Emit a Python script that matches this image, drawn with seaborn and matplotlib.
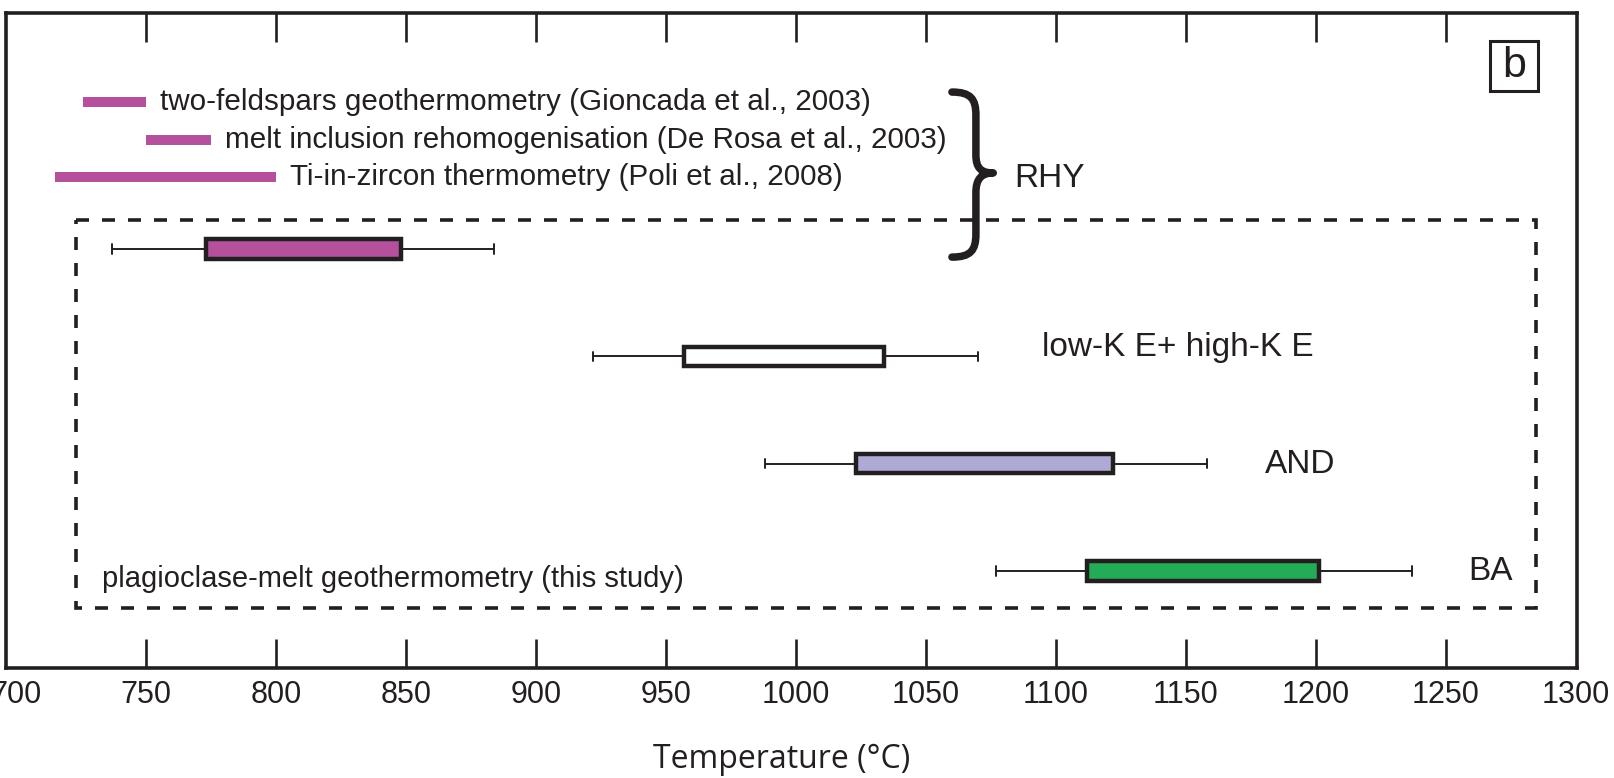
import matplotlib
matplotlib.use("Agg")
import matplotlib.pyplot as plt
from matplotlib.path import Path
from matplotlib.patches import PathPatch, Rectangle
from matplotlib import font_manager
import pandas as pd
import seaborn as sns

# ---------------- data ----------------
groups = ["RHY", "low-K E+ high-K E", "AND", "BA"]
whisker_low = [737, 922, 988, 1077]
q1 = [773, 957, 1023, 1112]
q3 = [848, 1034, 1122, 1201]
whisker_high = [884, 1070, 1158, 1237]
box_colors = ["#B5509D", "#FFFFFF", "#ADABD5", "#23AB57"]

ref_methods = [
    "two-feldspars geothermometry (Gioncada et al., 2003)",
    "melt inclusion rehomogenisation (De Rosa et al., 2003)",
    "Ti-in-zircon thermometry (Poli et al., 2008)",
]
ref_low = [726, 750, 715]
ref_high = [750, 775, 800]

tick_values = list(range(700, 1301, 50))

# ---------------- style ----------------
INK = "#231F20"
MAGENTA = "#B5509D"

sns.set_theme(style="white")
plt.rcParams["font.family"] = ["Liberation Sans", "DejaVu Sans"]
installed = {f.name for f in font_manager.fontManager.ttflist}
tick_family = "Liberation Sans Narrow" if "Liberation Sans Narrow" in installed else "Liberation Sans"
tick_size = 25 if tick_family == "Liberation Sans Narrow" else 22
axis_family = "Open Sans" if "Open Sans" in installed else "Liberation Sans"

# long-form table: five values per group give exact quartiles and whisker ends
rows = []
for g, lo, a, b, hi in zip(groups, whisker_low, q1, q3, whisker_high):
    for v in (lo, a, a, b, hi):
        rows.append({"group": g, "temperature": v})
df = pd.DataFrame(rows)

fig = plt.figure(figsize=(16.14, 7.78), dpi=100)
ax = fig.add_axes([6 / 1614, 1 - 667.5 / 778, 1571 / 1614, 654.5 / 778])

sns.boxplot(
    data=df, x="temperature", y="group", hue="group",
    order=groups, hue_order=groups,
    palette=dict(zip(groups, box_colors)), saturation=1,
    whis=(0, 100), width=0.18, showfliers=False,
    linecolor=INK, linewidth=1.4,
    boxprops={"linewidth": 3.2},
    medianprops={"visible": False},
    legend=False, ax=ax,
)

ax.set_xlim(696.2, 1300.4)
ax.set_ylim(3.9, -2.2)
ax.set_yticks([])
ax.set_ylabel("")
ax.set_xlabel("")

# x axis: inward ticks on top and bottom, labels at the bottom only
ax.set_xticks(tick_values)
ax.set_xticklabels([str(t) for t in tick_values], family=tick_family,
                   fontsize=tick_size, color=INK)
ax.tick_params(axis="x", which="major", direction="in", length=21, width=1.9,
               color=INK, top=True, bottom=True, labeltop=False, pad=9)
for t in (ax.xaxis.get_major_ticks()[0], ax.xaxis.get_major_ticks()[-1]):
    t.tick1line.set_visible(False)
    t.tick2line.set_visible(False)
for s in ax.spines.values():
    s.set_visible(True)
    s.set_color(INK)
    s.set_linewidth(2.6)

# rhyolite literature ranges
ref_rows = [-1.37, -1.016, -0.671]
ax.hlines(ref_rows, ref_low, ref_high, colors=MAGENTA, linewidth=7.2,
          capstyle="butt")
for label, hi, y in zip(ref_methods, ref_high, ref_rows):
    ax.annotate(label, xy=(hi, y), xytext=(10, 0), textcoords="offset points",
                ha="left", va="center", fontsize=21.3, color=INK)

# group labels
label_pos = {"low-K E+ high-K E": (1094.5, 0.997), "AND": (1180.4, 2.085),
             "BA": (1258.6, 3.085)}
for g, (x, y) in label_pos.items():
    ax.text(x, y, g, ha="left", va="baseline", fontsize=24, color=INK)
ax.text(1083.8, -0.578, "RHY", ha="left", va="baseline", fontsize=24, color=INK)

# curly brace grouping the rhyolite estimates
bx0, bx1, by0, by1 = 1060.0, 1075.9, -1.463, 0.075
unit = [(0, 0), (0.45, 0.0), (0.58, 0.04), (0.58, 0.14), (0.58, 0.38),
        (0.58, 0.46), (0.70, 0.49), (1.0, 0.49),
        (0.70, 0.49), (0.58, 0.53), (0.58, 0.61),
        (0.58, 0.86), (0.58, 0.96), (0.45, 1.0), (0, 1.0)]
codes = [Path.MOVETO, Path.CURVE4, Path.CURVE4, Path.CURVE4, Path.LINETO,
         Path.CURVE4, Path.CURVE4, Path.CURVE4,
         Path.CURVE4, Path.CURVE4, Path.CURVE4,
         Path.LINETO, Path.CURVE4, Path.CURVE4, Path.CURVE4]
verts = [(bx0 + u * (bx1 - bx0), by0 + v * (by1 - by0)) for u, v in unit]
ax.add_patch(PathPatch(Path(verts, codes), fill=False, edgecolor=INK,
                       linewidth=5.4, capstyle="round", joinstyle="round"))

# dashed frame around this study's results
ax.add_patch(Rectangle((723, -0.27), 1284.8 - 723, 3.346 + 0.27, fill=False,
                       edgecolor=INK, linewidth=2.6, linestyle=(0, (3.6, 3.6))))
ax.text(733, 3.147, "plagioclase-melt geothermometry (this study)",
        ha="left", va="baseline", fontsize=21, color=INK)

# panel letter
ax.add_patch(Rectangle((0.9444, 0.8808), 0.0306, 0.0764, transform=ax.transAxes,
                       fill=False, edgecolor=INK, linewidth=2.2))
ax.text(0.9597, 0.9190, "b", transform=ax.transAxes, ha="center",
        va="center", fontsize=31, color=INK)

fig.text(782 / 1614, 1 - 760 / 778, "Temperature (°C)", family=axis_family,
         ha="center", va="center", fontsize=23, color=INK)

fig.savefig("out.png", dpi=100)
